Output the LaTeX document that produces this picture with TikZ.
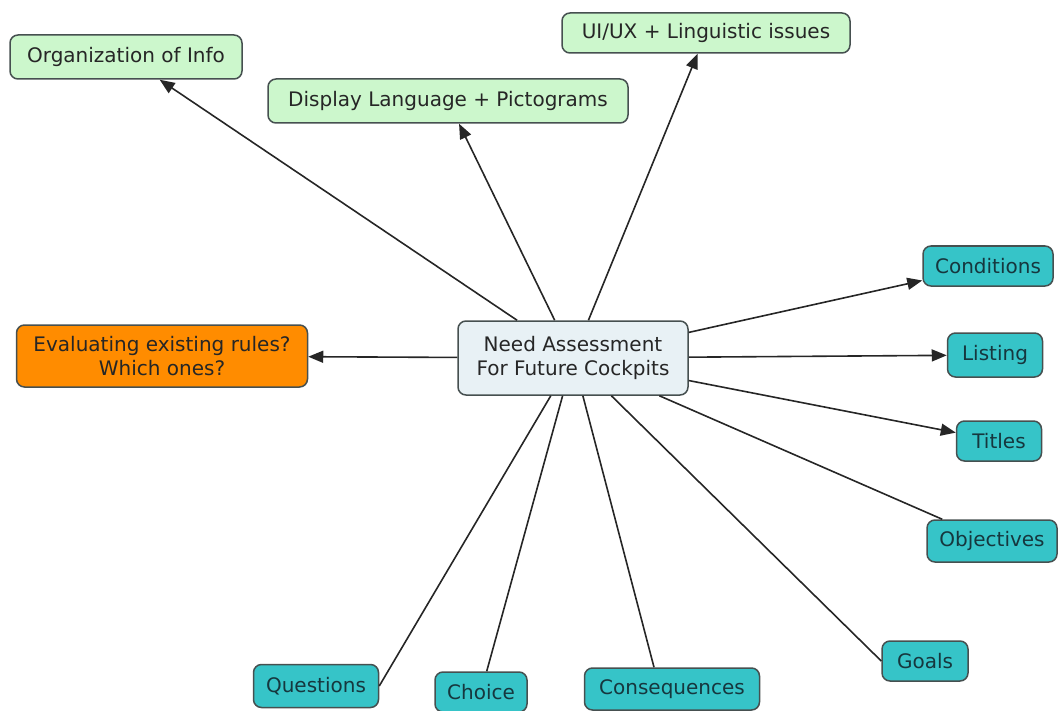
\documentclass[tikz,border=0pt]{standalone}
\usepackage{fontspec}
\setmainfont{DejaVu Sans}
\usepackage{tikz}
\usetikzlibrary{arrows.meta, positioning}
\definecolor{mintfill}{RGB}{204, 247, 204}
\definecolor{tealfill}{RGB}{54, 196, 200}
\definecolor{orangefill}{RGB}{255, 140, 0}
\definecolor{hubfill}{RGB}{232, 241, 245}
\definecolor{boxline}{RGB}{70, 80, 80}
\definecolor{tealtext}{RGB}{22, 55, 62}

\begin{document}
\begin{tikzpicture}[x=1pt, y=-1pt,
  box/.style={draw=boxline, line width=1.5pt, rounded corners=8pt, inner sep=0pt,
    font=\fontsize{20}{24}\selectfont, text=black!85, align=center},
  topic/.style={box, fill=mintfill, minimum height=44pt},
  item/.style={box, fill=tealfill, text=tealtext, minimum height=40pt},
  link/.style={line width=1.6pt, black!85},
  arrow/.style={link, -{Triangle[length=15pt, width=12pt]}}]
  \useasboundingbox (0,0) rectangle (1059,711);
  \node[box, fill=hubfill, minimum width=230pt, minimum height=74pt] (hub) at (573, 358)
    {Need Assessment\\For Future Cockpits};
  \node[topic, minimum width=232pt] (org) at (126, 57) {Organization of Info};
  \node[topic, minimum width=360pt] (disp) at (448, 101) {Display Language + Pictograms};
  \node[topic, minimum width=288pt, minimum height=40pt] (uiux) at (706, 33) {UI/UX + Linguistic issues};
  \node[box, fill=orangefill, minimum width=291pt, minimum height=62pt] (rules) at (162, 356)
    {Evaluating existing rules?\\Which ones?};
  \node[item, minimum width=130pt] (cond) at (988, 266) {Conditions};
  \node[item, minimum width=95pt, minimum height=44pt] (list) at (995, 355) {Listing};
  \node[item, minimum width=85pt] (titles) at (999, 441) {Titles};
  \node[item, minimum width=130pt, minimum height=42pt] (obj) at (992, 541) {Objectives};
  \node[item, minimum width=86pt] (goals) at (925, 661) {Goals};
  \node[item, minimum width=125pt, minimum height=43pt] (quest) at (316, 686) {Questions};
  \node[item, minimum width=92pt] (choice) at (481, 692) {Choice};
  \node[item, minimum width=175pt, minimum height=42pt] (conseq) at (672, 689) {Consequences};
  % arrows out of the hub
  \draw[arrow] (hub) -- (org);
  \draw[arrow] (hub) -- (disp);
  \draw[arrow] (hub) -- (uiux);
  \draw[arrow] (hub) -- (rules);
  \draw[arrow] (hub) -- (cond);
  \draw[arrow] (hub) -- (list);
  \draw[arrow] (hub) -- (titles);
  % plain links
  \draw[link] (hub) -- (obj);
  \draw[link] (hub) -- (goals.west);
  \draw[link] (hub) -- (quest.east);
  \draw[link] (hub) -- (choice);
  \draw[link] (hub) -- ([xshift=-18pt]conseq.north);
\end{tikzpicture}
\end{document}
